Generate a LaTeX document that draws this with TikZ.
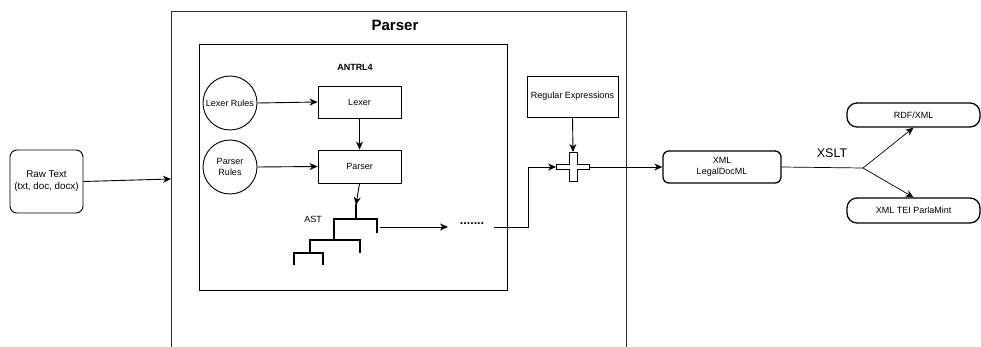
\documentclass[tikz,border=0pt]{standalone}
\usepackage{fontspec}
\setmainfont{Liberation Sans}
\usetikzlibrary{arrows.meta}
\begin{document}
\begin{tikzpicture}[x=1pt,y=-1pt,
  font=\fontsize{9}{11}\selectfont,
  line width=0.9pt,
  arr/.style={-{Stealth[length=8pt,width=7pt,inset=2.5pt]}},
  plain/.style={draw, rectangle, inner sep=1pt, align=center},
  roundbox/.style={draw, rectangle, rounded corners=6pt, line width=1.3pt, inner sep=1pt, align=center},
  pill/.style={draw, rectangle, rounded corners=10pt, line width=1.3pt, inner sep=1pt, align=center},
  rulecircle/.style={draw, circle, minimum size=54pt, inner sep=0pt, align=center},
  treeline/.style={line width=1.8pt},
]
\useasboundingbox (0,0) rectangle (981,347);

% outer Parser container (bottom outside the picture)
\draw[line width=1pt, draw=black!80] (171,350) -- (171,12) -- (626,12) -- (626,350);
\node[font=\fontsize{15}{17}\selectfont\bfseries] (ptitle) at (395,25) {Parser};
\coordinate (parserin) at (171,179);

% Raw text
\node[draw, rectangle, rounded corners=7pt, minimum width=73pt, minimum height=63pt,
      align=center, font=\fontsize{9.8}{12}\selectfont] (raw) at (46.5,181.5) {Raw Text\\(txt, doc, docx)};
\draw[arr] (raw.east) -- (parserin);

% ANTRL4 box
\node[draw, rectangle, minimum width=308pt, minimum height=246pt] (antlr) at (353,167) {};
\node[font=\fontsize{9}{11}\selectfont\bfseries] (antlrlabel) at (355,67) {ANTRL4};

\node[rulecircle] (lexrules) at (230,103) {Lexer Rules};
\node[rulecircle] (parrules) at (230,167) {Parser\\Rules};
\node[plain, minimum width=83pt, minimum height=32pt] (lexer) at (359.5,102) {Lexer};
\node[plain, minimum width=83pt, minimum height=33pt] (parser) at (359.5,166.5) {Parser};

\draw[arr] (lexrules.east) -- (lexer.west);
\draw[arr] (parrules.east) -- (parser.west);
\draw[arr] (lexer.south) -- (parser.north);

\coordinate (asttop) at (356,205);
\draw[arr] (parser.south) -- (asttop);

% AST tree
\draw[treeline] (356,204) -- (356,219.5);
\draw[treeline] (334,240) -- (334,219) -- (377,219) -- (377,233);
\draw[treeline] (310,253) -- (310,240) -- (360,240) -- (360,253);
\draw[treeline] (294,265) -- (294,253) -- (323,253) -- (323,265);
\node (astlabel) at (313,219) {AST};

\coordinate (astout) at (380,227);
\node[font=\fontsize{12.5}{14}\selectfont\bfseries, inner sep=3pt] (dots) at (472,224) {.......};
\draw[arr] (astout) -- (448,227);
\coordinate (k1) at (528,227);
\coordinate (dotsout) at (494,227);

% Regular expressions and cross
\node[plain, minimum width=91pt, minimum height=41pt] (regex) at (572.5,96.5) {Regular Expressions};
\node[minimum width=33pt, minimum height=29pt, inner sep=0pt] (cross) at (573,167) {};
\draw[line width=0.9pt, fill=white, shift={(573,167)}]
  (-16.5,-2.8) -- (-4,-2.8) -- (-4,-14.5) -- (4,-14.5) -- (4,-2.8) -- (16.5,-2.8)
  -- (16.5,2.8) -- (4,2.8) -- (4,14.5) -- (-4,14.5) -- (-4,2.8) -- (-16.5,2.8) -- cycle;
\draw[arr] (regex.south) -- (cross.north);
\draw[arr] (dotsout) -- (k1) |- (cross.west);

% XML LegalDocML
\node[roundbox, minimum width=118pt, minimum height=32pt] (xml) at (722,167) {XML\\LegalDocML};
\draw[arr] (cross.east) -- (xml.west);

\coordinate (split) at (863,168);
\draw[line width=0.7pt] (xml.east) -- (split);
\node[font=\fontsize{12.5}{14}\selectfont] (xslt) at (832,153) {XSLT};

\node[pill, minimum width=133pt, minimum height=24pt] (rdf) at (913.5,115) {RDF/XML};
\node[pill, minimum width=133pt, minimum height=25pt] (tei) at (913.5,210.5) {XML TEI ParlaMint};
\draw[arr, line width=0.7pt] (split) -- (rdf.south);
\draw[arr, line width=0.7pt] (split) -- (tei.north);
\end{tikzpicture}
\end{document}
